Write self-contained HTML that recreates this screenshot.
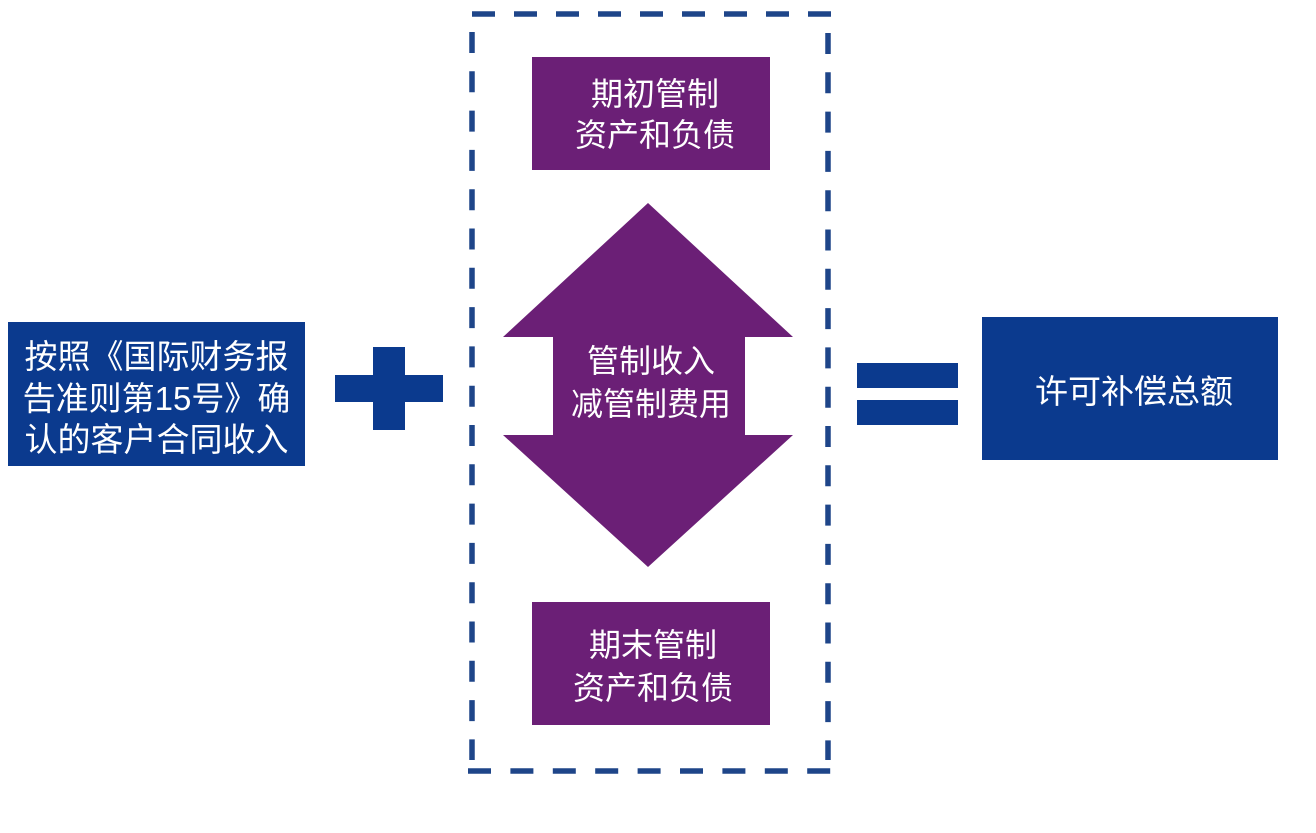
<!DOCTYPE html>
<html>
<head>
<meta charset="utf-8">
<style>
  html, body { margin:0; padding:0; background:#ffffff; }
  body { width:1316px; height:833px; position:relative; overflow:hidden;
         font-family: "Liberation Sans", "Noto Sans CJK SC", sans-serif; }
  svg { position:absolute; left:0; top:0; }
  .t { position:absolute; color:#ffffff; text-align:center; white-space:nowrap; }
</style>
</head>
<body>
<svg width="1316" height="833" viewBox="0 0 1316 833">
  <!-- dashed container -->
  <g stroke="#1e4589" stroke-width="5.5" fill="none">
    <line x1="472" y1="14" x2="834" y2="14" stroke-dasharray="23 19"/>
    <line x1="468" y1="771" x2="832" y2="771" stroke-dasharray="23 19.4"/>
    <line x1="472" y1="32" x2="472" y2="760" stroke-dasharray="21 18.3"/>
    <line x1="828" y1="33" x2="828" y2="760" stroke-dasharray="21 18.3"/>
  </g>

  <!-- left blue box -->
  <rect x="8" y="322" width="297" height="144" fill="#0b3a8e"/>
  <!-- plus -->
  <rect x="335" y="375" width="108" height="27" fill="#0b3a8e"/>
  <rect x="373" y="347" width="32" height="83" fill="#0b3a8e"/>

  <!-- top purple box -->
  <rect x="532" y="57" width="238" height="113" fill="#6b1f76"/>
  <!-- double arrow -->
  <polygon points="648,203 793,337 745,337 745,435 793,435 648,567 503,435 553,435 553,337 503,337" fill="#6b1f76"/>
  <!-- bottom purple box -->
  <rect x="532" y="602" width="238" height="123" fill="#6b1f76"/>

  <!-- equals -->
  <rect x="857" y="363" width="101" height="25" fill="#0b3a8e"/>
  <rect x="857" y="400" width="101" height="25" fill="#0b3a8e"/>

  <!-- right blue box -->
  <rect x="982" y="317" width="296" height="143" fill="#0b3a8e"/>
</svg>

<div class="t" style="left:8px; top:336px; width:297px; font-size:33px; line-height:41.5px;">按照《国际财务报<br>告准则第15号》确<br>认的客户合同收入</div>

<div class="t" style="left:536px; top:74px; width:238px; font-size:32px; line-height:41px;">期初管制<br>资产和负债</div>

<div class="t" style="left:526px; top:340px; width:250px; font-size:32px; line-height:43px;">管制收入<br>减管制费用</div>

<div class="t" style="left:534px; top:624px; width:238px; font-size:32px; line-height:43px;">期末管制<br>资产和负债</div>

<div class="t" style="left:986px; top:370px; width:296px; font-size:33px; line-height:44px;">许可补偿总额</div>
</body>
</html>
